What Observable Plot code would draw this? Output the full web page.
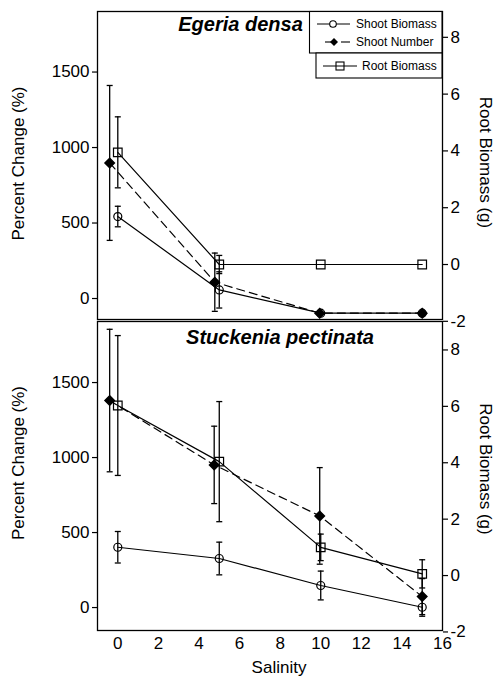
<!DOCTYPE html>
<html><head><meta charset="utf-8">
<script src="https://cdn.jsdelivr.net/npm/d3@7"></script>
<script src="https://cdn.jsdelivr.net/npm/@observablehq/plot@0.6"></script>
<style>
body{margin:0;background:#fff;}
#chart{position:relative;width:499px;height:684px;background:#fff;}
#chart svg{display:block;}
</style></head><body><div id="chart"></div>
<script>
// ---- data ----
const salinity = [0, 5, 10, 15];
const xTicks = [0, 2, 4, 6, 8, 10, 12, 14, 16];
const leftTicks = [0, 500, 1000, 1500];
const rightTicks = [-2, 0, 2, 4, 6, 8];
const seriesNames = ["Shoot Biomass", "Shoot Number", "Root Biomass"];

// Egeria densa
const edShootBiomass = [543, 57, -97, -97];
const edShootBiomassErr = [68, 120, 0, 0];
const edShootNumber = [898, 108, -97, -97];
const edShootNumberErr = [513, 193, 0, 0];
const edShootNumberX = [-0.4, 4.78, 9.95, 15];
const edRootBiomass = [3.95, 0, 0, 0];
const edRootBiomassErr = [1.25, 0.32, 0, 0];

// Stuckenia pectinata
const spShootBiomass = [402, 327, 147, 2];
const spShootBiomassErr = [105, 109, 96, 60];
const spShootNumber = [1380, 951, 611, 73];
const spShootNumberErr = [475, 258, 322, 120];
const spShootNumberX = [-0.4, 4.75, 9.95, 15];
const spRootBiomass = [6.03, 4.04, 1.0, 0.06];
const spRootBiomassErr = [2.48, 2.13, 0.47, 0.5];

// ---- helpers ----
const FONT = '"Liberation Sans", Arial, Helvetica, sans-serif';
const capSym = {draw(ctx, size) { const w = 3; ctx.moveTo(-w, 0); ctx.lineTo(w, 0); }};
const squareSym = {draw(ctx, size) { const r = Math.sqrt(size / Math.PI); ctx.rect(-r, -r, 2 * r, 2 * r); }};
const diamondSym = {draw(ctx, size) { const r = Math.sqrt(size / Math.PI); ctx.moveTo(0, -r); ctx.lineTo(r, 0); ctx.lineTo(0, r); ctx.lineTo(-r, 0); ctx.closePath(); }};

function rows(xs, ys, errs, map = v => v) {
  return xs.map((x, i) => ({x, y: map(ys[i]), lo: map(ys[i] - errs[i]), hi: map(ys[i] + errs[i]), e: errs[i]}));
}

function errorMarks(data) {
  const d = data.filter(r => r.e > 0);
  return [
    Plot.ruleX(d, {x: "x", y1: "lo", y2: "hi", stroke: "black", strokeWidth: 1.3}),
    Plot.dot(d, {x: "x", y: "lo", symbol: capSym, r: 3, stroke: "black", fill: "none", strokeWidth: 1.3}),
    Plot.dot(d, {x: "x", y: "hi", symbol: capSym, r: 3, stroke: "black", fill: "none", strokeWidth: 1.3})
  ];
}

function panel(o) {
  const toLeft = g => o.off + o.k * g;
  const fromLeft = v => Math.round((v - o.off) / o.k);
  const sb = rows(salinity, o.sb, o.sbErr);
  const sn = rows(o.snX, o.sn, o.snErr);
  const rb = rows(salinity, o.rb, o.rbErr, toLeft);
  return Plot.plot({
    width: 499, height: o.height,
    marginLeft: 97, marginRight: 57, marginTop: o.marginTop, marginBottom: o.marginBottom,
    x: {domain: [-1, 16], axis: null},
    y: {domain: o.yDomain, axis: null},
    style: {fontFamily: FONT, fontSize: "17px", color: "black", background: "white", overflow: "visible"},
    marks: [
      Plot.axisY({anchor: "left", ticks: leftTicks, tickSize: 5, tickPadding: 3, label: null, tickFormat: d => String(d), strokeWidth: 1.2}),
      Plot.axisY({anchor: "right", ticks: rightTicks.map(toLeft), tickSize: 5, tickPadding: 3, label: null, tickFormat: d => String(fromLeft(d)), strokeWidth: 1.2}),
      o.showX ? Plot.axisX({ticks: xTicks, tickSize: 0, tickPadding: 6, label: null, tickFormat: d => String(d)}) : null,
      ...errorMarks(sn), ...errorMarks(rb), ...errorMarks(sb),
      Plot.line(sb, {x: "x", y: "y", stroke: "black", strokeWidth: 1.2}),
      Plot.line(rb, {x: "x", y: "y", stroke: "black", strokeWidth: 1.2}),
      Plot.line(sn, {x: "x", y: "y", stroke: "black", strokeWidth: 1.2, strokeDasharray: "8,5"}),
      Plot.dot(sb, {x: "x", y: "y", r: 4, stroke: "black", fill: "none", strokeWidth: 1.2}),
      Plot.dot(rb, {x: "x", y: "y", symbol: squareSym, r: 4.3, stroke: "black", fill: "none", strokeWidth: 1.2}),
      Plot.dot(sn, {x: "x", y: "y", symbol: diamondSym, r: 4.7, fill: "black", stroke: "black"}),
      Plot.text([o.title], {frameAnchor: "top", dx: o.titleDx, dy: o.titleDy, lineAnchor: "top", textAnchor: "middle", fontWeight: "bold", fontStyle: "italic", fontSize: 20}),
      Plot.text(["Percent Change (%)"], {frameAnchor: "left", dx: -79, dy: o.labelDy, rotate: -90, textAnchor: "middle", lineAnchor: "middle", fontSize: 17}),
      Plot.text(["Root Biomass (g)"], {frameAnchor: "right", dx: 43, dy: o.rlabelDy, rotate: 90, textAnchor: "middle", lineAnchor: "middle", fontSize: 17}),
      o.showX ? Plot.text(["Salinity"], {frameAnchor: "bottom", dx: 9, dy: 37, textAnchor: "middle", lineAnchor: "middle", fontSize: 17}) : null,
      Plot.frame({stroke: "black", strokeWidth: 1.3})
    ]
  });
}

const topPlot = panel({
  title: "Egeria densa", titleDx: -29.5, titleDy: 5, labelDy: -2, rlabelDy: -3,
  sb: edShootBiomass, sbErr: edShootBiomassErr,
  sn: edShootNumber, snErr: edShootNumberErr, snX: edShootNumberX,
  rb: edRootBiomass, rbErr: edRootBiomassErr,
  off: 225.2, k: 188.1, yDomain: [-139, 1901],
  height: 320, marginTop: 11, marginBottom: 1, showX: false
});
const bottomPlot = panel({
  title: "Stuckenia pectinata", titleDx: 10, titleDy: 8, labelDy: -13, rlabelDy: -7,
  sb: spShootBiomass, sbErr: spShootBiomassErr,
  sn: spShootNumber, snErr: spShootNumberErr, snX: spShootNumberX,
  rb: spRootBiomass, rbErr: spRootBiomassErr,
  off: 213.3, k: 188, yDomain: [-153, 1907],
  height: 364, marginTop: 1, marginBottom: 54, showX: true
});

const chart = document.getElementById("chart");
chart.append(topPlot, bottomPlot);

// ---- legend (inside the top panel) ----
const svg = d3.select(topPlot);
const lg = svg.append("g").attr("font-family", FONT).attr("font-size", 12).attr("fill", "black").attr("text-anchor", "start");
lg.append("rect").attr("x", 309.5).attr("y", 11.5).attr("width", 132.5).attr("height", 41.5).attr("fill", "white").attr("stroke", "black").attr("stroke-width", 1.1);
lg.append("rect").attr("x", 316).attr("y", 53).attr("width", 126).attr("height", 25).attr("fill", "white").attr("stroke", "black").attr("stroke-width", 1.1);
// Shoot Biomass
lg.append("line").attr("x1", 317).attr("x2", 350).attr("y1", 24).attr("y2", 24).attr("stroke", "black").attr("stroke-width", 1.1);
lg.append("circle").attr("cx", 333).attr("cy", 24).attr("r", 3.3).attr("fill", "white").attr("stroke", "black").attr("stroke-width", 1.1);
lg.append("text").attr("x", 356).attr("y", 24).attr("dy", "0.35em").text(seriesNames[0]);
// Shoot Number
lg.append("line").attr("x1", 325).attr("x2", 334).attr("y1", 42).attr("y2", 42).attr("stroke", "black").attr("stroke-width", 1.1);
lg.append("line").attr("x1", 341).attr("x2", 350).attr("y1", 42).attr("y2", 42).attr("stroke", "black").attr("stroke-width", 1.1);
lg.append("path").attr("d", "M334,38L338,42L334,46L330,42Z").attr("fill", "black");
lg.append("text").attr("x", 356).attr("y", 42).attr("dy", "0.35em").text(seriesNames[1]);
// Root Biomass
lg.append("line").attr("x1", 323).attr("x2", 357).attr("y1", 66).attr("y2", 66).attr("stroke", "black").attr("stroke-width", 1.1);
lg.append("rect").attr("x", 336).attr("y", 62).attr("width", 8).attr("height", 8).attr("fill", "none").attr("stroke", "black").attr("stroke-width", 1.1);
lg.append("text").attr("x", 362).attr("y", 66).attr("dy", "0.35em").text(seriesNames[2]);
</script>
</body></html>
